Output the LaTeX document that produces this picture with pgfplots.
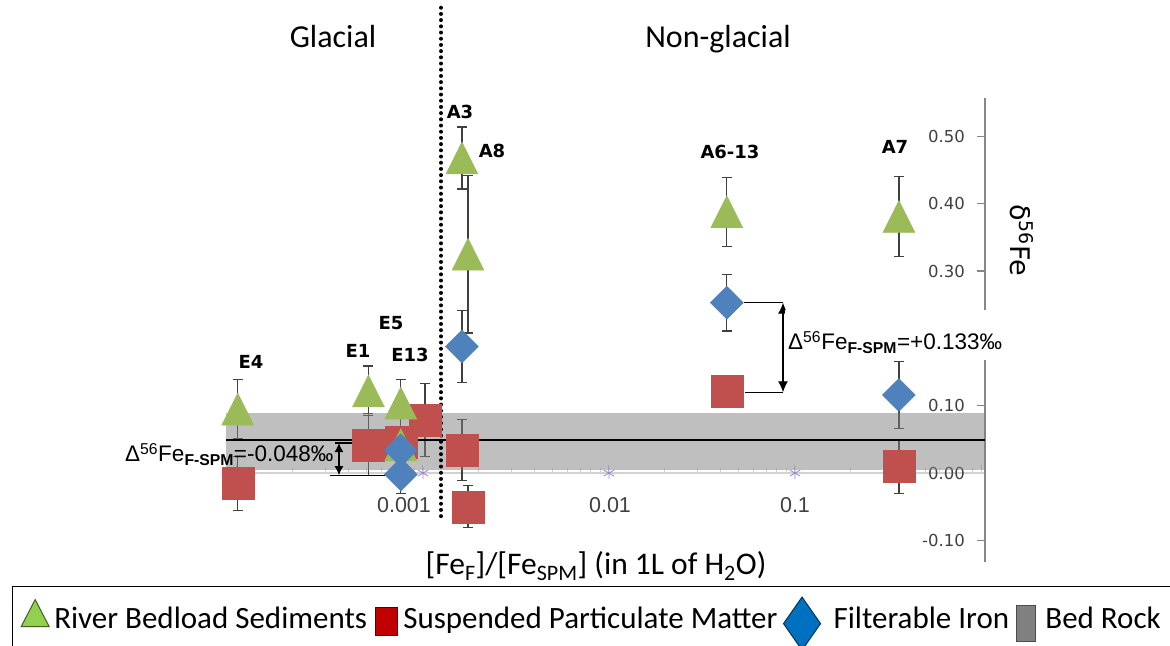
\documentclass[border=0pt]{standalone}
\usepackage{pgfplots}
\usepackage{pgfplotstable}
\pgfplotsset{compat=1.18}
\usetikzlibrary{arrows.meta}
\usepackage{fontspec}
\setmainfont{Carlito}
\newfontfamily\dv{DejaVu Sans}
\newfontfamily\lib{Liberation Sans}
\definecolor{tric}{HTML}{9BBB59}
\definecolor{sqc}{HTML}{C0504D}
\definecolor{diac}{HTML}{4F81BD}
\definecolor{errc}{HTML}{404040}
\definecolor{astc}{RGB}{155,135,205}
\definecolor{legtri}{HTML}{92D050}
\definecolor{legsq}{HTML}{C00000}
\definecolor{legdia}{HTML}{0070C0}
\definecolor{axg}{HTML}{868686}

\pgfdeclareplotmark{mytri}{%
  \pgfpathmoveto{\pgfqpoint{0pt}{\pgfplotmarksize}}%
  \pgfpathlineto{\pgfqpoint{-\pgfplotmarksize}{-\pgfplotmarksize}}%
  \pgfpathlineto{\pgfqpoint{\pgfplotmarksize}{-\pgfplotmarksize}}%
  \pgfpathclose\pgfusepathqfillstroke}
\pgfdeclareplotmark{mydia}{%
  \pgfpathmoveto{\pgfqpoint{0pt}{\pgfplotmarksize}}%
  \pgfpathlineto{\pgfqpoint{\pgfplotmarksize}{0pt}}%
  \pgfpathlineto{\pgfqpoint{0pt}{-\pgfplotmarksize}}%
  \pgfpathlineto{\pgfqpoint{-\pgfplotmarksize}{0pt}}%
  \pgfpathclose\pgfusepathqfillstroke}

% River bedload sediments (triangles)
\pgfplotstableread{
x y e
1.01e-4 0.095 0.044
5.09e-4 0.122 0.037
7.6e-4 0.104 0.035
7.6e-4 0.042 0
1.62e-3 0.468 0.046
1.746e-3 0.325 0.117
0.0430 0.388 0.051
0.362 0.381 0.059
}\tabTri
% Suspended particulate matter (squares)
\pgfplotstableread{
x y e
1.01e-4 -0.015 0.040
5.09e-4 0.042 0.046
7.6e-4 0.046 0.045
1.025e-3 0.079 0.054
1.62e-3 0.034 0.045
1.746e-3 -0.050 0.031
0.0430 0.121 0
0.362 0.010 0.040
}\tabSq
% Filterable iron (diamonds)
\pgfplotstableread{
x y e
7.6e-4 0.034 0
7.6e-4 -0.002 0.028
1.62e-3 0.188 0.054
0.0430 0.253 0.042
0.362 0.116 0.050
}\tabDia

\pgfplotsset{
  errstyle/.style={error bars/.cd, y dir=both, y explicit,
    error bar style={color=errc, line width=1.2bp},
    error mark options={rotate=90, color=errc, mark size=5bp, line width=1.2bp}},
}

\begin{document}
\begin{tikzpicture}[x=1bp,y=1bp]
\useasboundingbox (0,0) rectangle (1170,646);
\begin{axis}[
  at={(226bp,84bp)}, anchor=south west,
  width=759bp, height=464bp, scale only axis,
  xmode=log, xmin=8.73e-5, xmax=1.051,
  ymin=-0.132, ymax=0.557,
  axis x line=middle, axis y line=right,
  x axis line style={-, draw=gray!35, line width=1.5bp},
  y axis line style={-, draw=axg, line width=1.2bp},
  every inner x axis line/.append style={-},
  every outer y axis line/.append style={-},
  hide obscured x ticks=false, hide obscured y ticks=false,
  xtick={1e-4,1e-3,1e-2,1e-1,1}, xticklabels={},
  minor xtick={2e-4,3e-4,4e-4,5e-4,6e-4,7e-4,8e-4,9e-4,2e-3,3e-3,4e-3,5e-3,6e-3,7e-3,8e-3,9e-3,0.02,0.03,0.04,0.05,0.06,0.07,0.08,0.09,0.2,0.3,0.4,0.5,0.6,0.7,0.8,0.9},
  ytick={-0.1,0,0.1,0.2,0.3,0.4,0.5},
  yticklabels={-0.10,0.00,0.10,{},0.30,0.40,0.50},
  yticklabel style={font=\dv\fontsize{16.5bp}{18bp}\selectfont, color=errc, anchor=east, xshift=-20bp, inner sep=0pt},
  tick align=inside,
  major tick length=8bp, minor tick length=5bp,
  x tick style={draw=gray!35, line width=1bp},
  y tick style={draw=axg, line width=1.2bp},
  clip=false,
  legend columns=-1,
  legend style={at={(-0.28195,-0.05172)}, anchor=north west, draw=black, line width=1.2bp,
    inner xsep=0pt, inner ysep=10bp, /tikz/column sep=0pt,
    cells={anchor=base west},
    nodes={inner sep=0pt, font=\fontsize{31bp}{34bp}\selectfont}},
]
% squares
\addplot[forget plot, only marks, mark=square*, mark size=16bp, color=sqc, errstyle]
  table[x=x, y=y, y error=e]{\tabSq};
% triangles
\addplot[forget plot, only marks, mark=mytri, mark size=16bp, color=tric, errstyle]
  table[x=x, y=y, y error=e]{\tabTri};
% diamonds
\addplot[forget plot, only marks, mark=mydia, mark size=16.5bp, color=diac, errstyle]
  table[x=x, y=y, y error=e]{\tabDia};
% bed rock band
\addplot[forget plot, draw=none, fill=gray, fill opacity=0.5]
  coordinates {(8.73e-5,0.004) (1.051,0.004) (1.051,0.089) (8.73e-5,0.089)};
\addplot[forget plot, black, line width=1.2bp]
  coordinates {(8.73e-5,0.049) (1.051,0.049)};
% tick asterisks
\addplot[forget plot, only marks, mark=asterisk, mark size=6bp, color=astc, line width=0.8bp]
  coordinates {(1e-3,0) (1e-2,0) (1e-1,0)};
% glacial / non-glacial divider
\addplot[forget plot, black, line width=4bp, dash pattern=on 0bp off 6.2bp, line cap=round]
  coordinates {(1.25e-3,0.691) (1.25e-3,-0.070)};
% annotations
\draw[black, line width=1.2bp] (axis cs:0.0532,0.253) -- (axis cs:0.0862,0.253);
\draw[black, line width=1.2bp] (axis cs:0.0538,0.120) -- (axis cs:0.0862,0.120);
\draw[black, line width=1.2bp, {Latex[length=11bp,width=10bp]}-{Latex[length=11bp,width=10bp]}]
  (axis cs:0.0862,0.253) -- (axis cs:0.0862,0.120);
\draw[black, line width=1.2bp] (axis cs:3.36e-4,0.0446) -- (axis cs:6.02e-4,0.0446);
\draw[black, line width=1.2bp] (axis cs:3.16e-4,-0.003) -- (axis cs:6.25e-4,-0.003);
\draw[black, line width=1.2bp, {Latex[length=9bp,width=9bp]}-{Latex[length=9bp,width=9bp]}]
  (axis cs:3.535e-4,0.0446) -- (axis cs:3.535e-4,-0.003);
% legend
\addlegendimage{legend image code/.code={
  \path (-22bp,0bp) (18.5bp,0bp);
  \draw[fill=legtri, draw=legtri!45!black, line width=1bp] (-14bp,2bp) -- (14bp,2bp) -- (0bp,29bp) -- cycle;}}
\addlegendentry{River Bedload Sediments}
\addlegendimage{legend image code/.code={
  \path (-18.5bp,0bp) (16.5bp,0bp);
  \draw[fill=legsq, draw=legsq!45!black, line width=1bp] (-11bp,-6.5bp) rectangle (11bp,21.5bp);}}
\addlegendentry{Suspended Particulate Matter}
\addlegendimage{legend image code/.code={
  \path (-24bp,0bp) (31bp,0bp);
  \draw[fill=legdia, draw=legdia!45!black, line width=1bp] (0bp,31.5bp) -- (18.5bp,5bp) -- (0bp,-21.5bp) -- (-18.5bp,5bp) -- cycle;}}
\addlegendentry{Filterable Iron}
\addlegendimage{legend image code/.code={
  \path (-16bp,0bp) (19bp,0bp);
  \draw[fill=gray, draw=black!70, line width=1bp] (-9.5bp,-12.5bp) rectangle (9.5bp,23.5bp);}}
\addlegendentry{Bed Rock}
\addlegendimage{legend image code/.code={\path (0bp,0bp) (40bp,0bp);}}
\addlegendentry{}
\end{axis}

% region titles
\node[font=\fontsize{32bp}{36bp}\selectfont, anchor=base] at (333,598) {Glacial};
\node[font=\fontsize{32bp}{36bp}\selectfont, anchor=base] at (718,598) {Non-glacial};
% axis titles
\node[font=\fontsize{31.5bp}{34bp}\selectfont, anchor=base] at (596,71)
  {[Fe\textsubscript{F}]/[Fe\textsubscript{SPM}] (in 1L of H\textsubscript{2}O)};
\node[font=\dv\fontsize{27bp}{30bp}\selectfont, rotate=-90] at (1022,406) {δ\textsuperscript{56}Fe};
% x tick labels
\begin{scope}[font=\lib\fontsize{21.5bp}{24bp}\selectfont, text=errc]
\node[anchor=base] at (404,133) {0.001};
\node[anchor=base] at (610,133) {0.01};
\node[anchor=base] at (795,133) {0.1};
\end{scope}
% sample labels
\begin{scope}[font=\dv\bfseries\fontsize{18bp}{20bp}\selectfont]
\node at (251,284) {E4};
\node at (358,295) {E1};
\node at (391,323) {E5};
\node at (410,291) {E13};
\node at (460,534) {A3};
\node at (492,495) {A8};
\node at (730,494) {A6-13};
\node at (895,499) {A7};
\end{scope}
% delta annotations
\fill[white] (785,286) rectangle (1002,336);
\node[font=\lib\fontsize{22.5bp}{24bp}\selectfont, anchor=base west, inner sep=0pt] at (788,296)
  {Δ\textsuperscript{56}Fe\textsubscript{\bfseries F-SPM}=+0.133‰};
\node[font=\lib\fontsize{22.5bp}{24bp}\selectfont, anchor=base west, inner sep=0pt] at (125,184)
  {Δ\textsuperscript{56}Fe\textsubscript{\bfseries F-SPM}=-0.048‰};
\end{tikzpicture}
\end{document}
